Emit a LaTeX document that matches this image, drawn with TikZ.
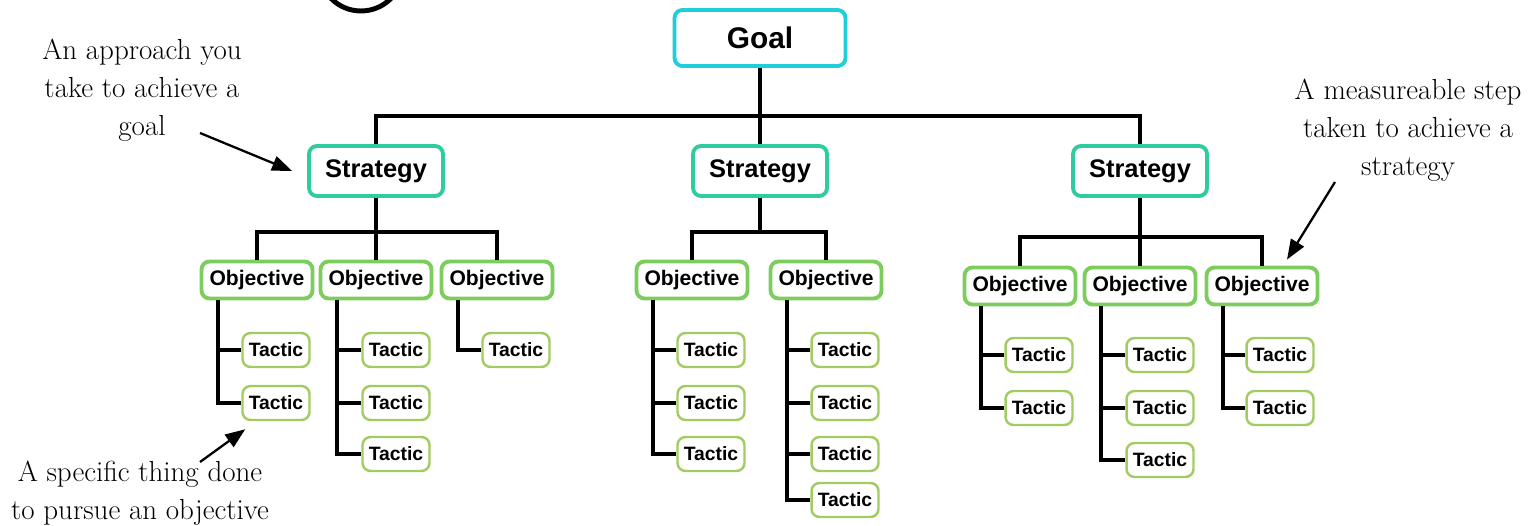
\documentclass[tikz,border=0pt]{standalone}
\usepackage{fontspec}
\setsansfont{Liberation Sans}
\usepackage{xcolor}
\usetikzlibrary{arrows.meta}

\definecolor{goalcyan}{HTML}{1FCDDB}
\definecolor{stratteal}{HTML}{2ECC9E}
\definecolor{objgreen}{HTML}{7CCC5E}
\definecolor{tacgreen}{HTML}{A2CC62}

\tikzset{
  box/.style={draw, rounded corners=0.16cm, fill=white, inner sep=0pt},
  goalbox/.style={box, draw=goalcyan, line width=2.2pt, minimum width=3.42cm, minimum height=1.12cm,
    font=\sffamily\bfseries\fontsize{17}{19}\selectfont},
  stratbox/.style={box, draw=stratteal, line width=2.2pt, minimum width=2.68cm, minimum height=1cm,
    font=\sffamily\bfseries\fontsize{14.5}{16}\selectfont},
  objbox/.style={box, draw=objgreen, line width=2.2pt, minimum width=2.22cm, minimum height=0.74cm,
    font=\sffamily\bfseries\fontsize{12}{14}\selectfont},
  tacbox/.style={box, draw=tacgreen, line width=1.4pt, minimum width=1.34cm, minimum height=0.68cm,
    font=\sffamily\bfseries\fontsize{11}{12}\selectfont},
  link/.style={line width=2pt},
  note/.style={align=center, font=\fontsize{16.5}{21.5}\selectfont},
  pointer/.style={line width=1.3pt, -{Triangle[length=0.4cm,width=0.3cm]}}
}

\begin{document}
\begin{tikzpicture}[x=0.02cm, y=-0.02cm]
\useasboundingbox (0,0) rectangle (1530,526);

% cut-off ring of the title
\draw[line width=2.8pt] (361,-31) circle (0.84cm);

% goal and strategies
\node[goalbox] (goal) at (760,38) {Goal};
\node[stratbox] (s1) at (376,171) {Strategy};
\node[stratbox] (s2) at (760,171) {Strategy};
\node[stratbox] (s3) at (1140,171) {Strategy};

\draw[link] (s1.north) |- (goal.south |- 0,116) -| (s3.north);
\draw[link] (goal.south) -- (s2.north);

% objectives
\node[objbox] (o11) at (257,280) {Objective};
\node[objbox] (o12) at (376,280) {Objective};
\node[objbox] (o13) at (497,280) {Objective};
\node[objbox] (o21) at (692,280) {Objective};
\node[objbox] (o22) at (826,280) {Objective};
\node[objbox] (o31) at (1020,286) {Objective};
\node[objbox] (o32) at (1140,286) {Objective};
\node[objbox] (o33) at (1262,286) {Objective};

\draw[link] (o11.north) |- (s1.south |- 0,232) -| (o13.north);
\draw[link] (s1.south) -- (o12.north);
\draw[link] (o21.north) |- (s2.south |- 0,232) -| (o22.north);
\draw[link] (s2.south) -- (s2.south |- 0,232);
\draw[link] (o31.north) |- (s3.south |- 0,237) -| (o33.north);
\draw[link] (s3.south) -- (o32.north);

% tactics
\node[tacbox] (t111) at (276,350) {Tactic};
\node[tacbox] (t112) at (276,403) {Tactic};
\node[tacbox] (t121) at (396,350) {Tactic};
\node[tacbox] (t122) at (396,403) {Tactic};
\node[tacbox] (t123) at (396,454) {Tactic};
\node[tacbox] (t131) at (516,350) {Tactic};

\node[tacbox] (t211) at (711,350) {Tactic};
\node[tacbox] (t212) at (711,403) {Tactic};
\node[tacbox] (t213) at (711,454) {Tactic};
\node[tacbox] (t221) at (845,350) {Tactic};
\node[tacbox] (t222) at (845,403) {Tactic};
\node[tacbox] (t223) at (845,454) {Tactic};
\node[tacbox] (t224) at (845,500) {Tactic};

\node[tacbox] (t311) at (1039,355) {Tactic};
\node[tacbox] (t312) at (1039,408) {Tactic};
\node[tacbox] (t321) at (1160,355) {Tactic};
\node[tacbox] (t322) at (1160,408) {Tactic};
\node[tacbox] (t323) at (1160,460) {Tactic};
\node[tacbox] (t331) at (1280,355) {Tactic};
\node[tacbox] (t332) at (1280,408) {Tactic};

\draw[link] ([xshift=-0.78cm]o11.south) |- (t111.west);
\draw[link] ([xshift=-0.78cm]o11.south) |- (t112.west);
\draw[link] ([xshift=-0.78cm]o12.south) |- (t121.west);
\draw[link] ([xshift=-0.78cm]o12.south) |- (t122.west);
\draw[link] ([xshift=-0.78cm]o12.south) |- (t123.west);
\draw[link] ([xshift=-0.78cm]o13.south) |- (t131.west);

\draw[link] ([xshift=-0.78cm]o21.south) |- (t211.west);
\draw[link] ([xshift=-0.78cm]o21.south) |- (t212.west);
\draw[link] ([xshift=-0.78cm]o21.south) |- (t213.west);
\draw[link] ([xshift=-0.78cm]o22.south) |- (t221.west);
\draw[link] ([xshift=-0.78cm]o22.south) |- (t222.west);
\draw[link] ([xshift=-0.78cm]o22.south) |- (t223.west);
\draw[link] ([xshift=-0.78cm]o22.south) |- (t224.west);

\draw[link] ([xshift=-0.78cm]o31.south) |- (t311.west);
\draw[link] ([xshift=-0.78cm]o31.south) |- (t312.west);
\draw[link] ([xshift=-0.78cm]o32.south) |- (t321.west);
\draw[link] ([xshift=-0.78cm]o32.south) |- (t322.west);
\draw[link] ([xshift=-0.78cm]o32.south) |- (t323.west);
\draw[link] ([xshift=-0.78cm]o33.south) |- (t331.west);
\draw[link] ([xshift=-0.78cm]o33.south) |- (t332.west);

% notes
\node[note] (n1) at (142,90) {An approach you\\take to achieve a\\goal};
\node[note] (n2) at (1408,130) {A measureable step\\taken to achieve a\\strategy};
\node[note] (n3) at (140,493) {A specific thing done\\to pursue an objective};

\coordinate (a1) at (200,133);
\coordinate (a2) at (1335,182);
\coordinate (a3) at (200,462);
\draw[pointer] (a1) -- ([xshift=-0.3cm]s1.west);
\draw[pointer] (a2) -- ([xshift=0.5cm,yshift=0.12cm]o33.north);
\draw[pointer] (a3) -- ([xshift=0.08cm,yshift=-0.16cm]t112.south west);

\end{tikzpicture}
\end{document}
